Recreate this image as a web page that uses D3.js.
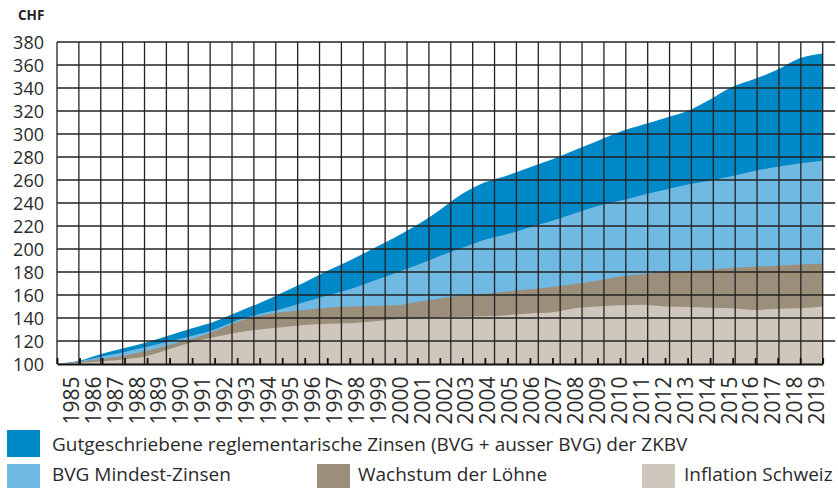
<!DOCTYPE html>
<html>
<head>
<meta charset="utf-8">
<script src="https://cdnjs.cloudflare.com/ajax/libs/d3/7.8.5/d3.min.js"></script>
<style>
  body { margin: 0; background: #fff; }
  svg { display: block; font-family: "Open Sans", sans-serif; }
</style>
</head>
<body>
<div id="chart"></div>
<script>
// years on the x axis
var years = [1985, 1986, 1987, 1988, 1989, 1990, 1991, 1992, 1993, 1994,
             1995, 1996, 1997, 1998, 1999, 2000, 2001, 2002, 2003, 2004,
             2005, 2006, 2007, 2008, 2009, 2010, 2011, 2012, 2013, 2014,
             2015, 2016, 2017, 2018, 2019]

// index values (1985 = 100 CHF)
var zkbv = [100, 103, 109, 114, 119, 125, 131, 137, 145, 153,
            162, 171, 181, 190, 200, 210, 221, 234, 248, 258,
            264, 271, 278, 286, 294, 302, 308, 314, 320, 330,
            341, 348, 356, 366, 370]
var bvg = [100, 102.5, 106.5, 110.5, 115, 119.5, 124.5, 130, 138, 143.5,
           148, 154, 159.5, 165, 172, 179, 186, 194, 201, 208,
           213, 219, 224.5, 231, 237.5, 242, 247, 251.5, 256, 259.5,
           263.5, 268, 271.5, 274.5, 277]
var loehne = [100, 102, 104.5, 107.5, 111.5, 116.5, 122, 128.5, 136.5, 142,
              145, 147, 149, 150, 150.5, 151, 154, 157, 159.5, 161,
              163, 165, 167, 169.5, 172.5, 176, 178, 180, 181, 182,
              183.5, 184.5, 185.5, 186.5, 187.5]
var inflation = [100, 101, 102.5, 104, 107, 113, 119, 123.5, 127.5, 130,
                 132, 134, 135, 135.5, 137, 139, 139.5, 140.5, 141, 141.5,
                 142.5, 144, 145, 148.5, 150, 151, 151.5, 150, 149.5, 149,
                 148.5, 147, 148, 148.5, 150]

var yTicks = [100, 120, 140, 160, 180, 200, 220, 240, 260, 280, 300, 320, 340, 360, 380]
var seriesNames = ["Gutgeschriebene reglementarische Zinsen (BVG + ausser BVG) der ZKBV",
                   "BVG Mindest-Zinsen", "Wachstum der Löhne", "Inflation Schweiz"]
var colors = ["#0089c8", "#70b9e3", "#9b8e7a", "#cfc7bb"]

var width = 838
var height = 488

var svg = d3.select("#chart")
  .append("svg")
    .attr("width", width)
    .attr("height", height)

var x = d3.scaleLinear().domain([1985, 2019]).range([57, 822.7])
var y = d3.scaleLinear().domain([100, 380]).range([364, 42])
// grid columns are not tied to the years in the original
var gridX = d3.scaleLinear().domain([0, 35]).range([57, 822.7])
var labelX = d3.scalePoint().domain(years).range([71.3, 816.7])

// areas, back to front
var allSeries = [zkbv, bvg, loehne, inflation]
var area = d3.area()
  .x(function(d) { return x(d.year) })
  .y0(y(100))
  .y1(function(d) { return y(d.v) })
  .curve(d3.curveMonotoneX)

svg.append("g").selectAll("path")
  .data(allSeries)
  .enter()
  .append("path")
    .attr("d", function(s) {
      return area(s.map(function(v, i) { return {year: years[i], v: v} }))
    })
    .attr("fill", function(s, i) { return colors[i] })

// grid on top of the areas
var grid = svg.append("g").attr("stroke", "#222").attr("stroke-width", 1.3)
grid.selectAll("line.h")
  .data(yTicks.slice(1))
  .enter()
  .append("line")
    .attr("class", "h")
    .attr("x1", 57).attr("x2", 835)
    .attr("y1", function(d) { return y(d) })
    .attr("y2", function(d) { return y(d) })
grid.selectAll("line.v")
  .data(d3.range(36))
  .enter()
  .append("line")
    .attr("class", "v")
    .attr("x1", function(d) { return gridX(d) })
    .attr("x2", function(d) { return gridX(d) })
    .attr("y1", y(380)).attr("y2", y(100))

// x axis: baseline with inner ticks
var xAxis = svg.append("g")
  .attr("transform", "translate(0," + y(100) + ")")
  .call(d3.axisBottom(x).tickValues(years).tickSize(-6).tickSizeOuter(0).tickFormat(""))
xAxis.select(".domain").attr("stroke", "#111").attr("stroke-width", 2.2)
xAxis.selectAll(".tick line").attr("stroke", "#111").attr("stroke-width", 1.8)

// year labels, rotated
svg.append("g").selectAll("text")
  .data(years)
  .enter()
  .append("text")
    .attr("transform", function(d) { return "translate(" + (labelX(d) + 7.5) + ",376.5) rotate(-90)" })
    .attr("text-anchor", "end")
    .style("font-size", "21px")
    .attr("fill", "#2a2a2a")
    .text(function(d) { return d })

// y labels
svg.append("g").selectAll("text")
  .data(yTicks)
  .enter()
  .append("text")
    .attr("x", 44)
    .attr("y", function(d) { return y(d) + 6.5 })
    .attr("text-anchor", "end")
    .style("font-size", "18px")
    .attr("fill", "#2a2a2a")
    .text(function(d) { return d })

svg.append("text")
  .attr("x", 18).attr("y", 20)
  .style("font-size", "13.5px")
  .style("font-weight", "bold")
  .attr("fill", "#222")
  .text("CHF")

// legend
var legend = [
  {x: 7, y: 430, tx: 52, ty: 451},
  {x: 7, y: 464, tx: 52, ty: 481},
  {x: 317, y: 464, tx: 358, ty: 481},
  {x: 642, y: 464, tx: 684, ty: 481}
]
var lg = svg.append("g").selectAll("g")
  .data(legend)
  .enter()
  .append("g")
lg.append("rect")
  .attr("x", function(d) { return d.x })
  .attr("y", function(d) { return d.y })
  .attr("width", 33).attr("height", 27)
  .attr("fill", function(d, i) { return colors[i] })
lg.append("text")
  .attr("x", function(d) { return d.tx })
  .attr("y", function(d) { return d.ty })
  .style("font-size", "19px")
  .attr("fill", "#2a2a2a")
  .text(function(d, i) { return seriesNames[i] })
</script>
</body>
</html>
